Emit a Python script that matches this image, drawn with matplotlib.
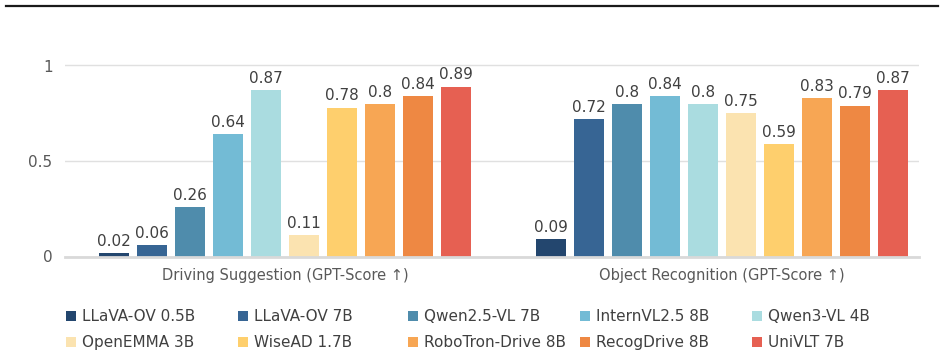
import matplotlib
matplotlib.use("Agg")
import matplotlib.pyplot as plt
from matplotlib.lines import Line2D
from matplotlib.patches import Patch
import numpy as np

categories = ["Driving Suggestion (GPT-Score \u2191)", "Object Recognition (GPT-Score \u2191)"]
models = ["LLaVA-OV 0.5B", "LLaVA-OV 7B", "Qwen2.5-VL 7B", "InternVL2.5 8B", "Qwen3-VL 4B",
          "OpenEMMA 3B", "WiseAD 1.7B", "RoboTron-Drive 8B", "RecogDrive 8B", "UniVLT 7B"]
driving = [0.02, 0.06, 0.26, 0.64, 0.87, 0.11, 0.78, 0.8, 0.84, 0.89]
objrec = [0.09, 0.72, 0.8, 0.84, 0.8, 0.75, 0.59, 0.83, 0.79, 0.87]
colors = ["#23466E", "#376594", "#4F8CAC", "#73BBD5", "#AADCE0",
          "#FBE3B0", "#FECF6D", "#F7A654", "#EE8843", "#E66052"]
yticks = [0, 0.5, 1]
ytick_labels = ["0", "0.5", "1"]

plt.rcParams['font.family'] = ['DejaVu Sans']

fig = plt.figure(figsize=(9.48, 3.61), dpi=100)
ax = fig.add_axes([65/948, 1-256.5/361, (919-65)/948, 1.1*191/361])

x = np.arange(len(categories))
pitch = 38/437
width = 30/437
n = len(models)
for i, m in enumerate(models):
    vals = [driving[i], objrec[i]]
    pos = x + (i - (n-1)/2) * pitch
    bars = ax.bar(pos, vals, width, color=colors[i], label=m, zorder=3)
    for b, v in zip(bars, vals):
        ax.annotate(f"{v:g}", (b.get_x()+b.get_width()/2, v), xytext=(0, 3),
                    textcoords="offset points", ha="center", va="bottom",
                    fontsize=11, color="#404040", zorder=4)

ax.set_xlim(-220/437, 1+197/437)
ax.set_ylim(0, 1.1)
ax.set_yticks(yticks)
ax.set_yticklabels(ytick_labels)
ax.set_xticks(x)
ax.set_xticklabels(categories)
ax.tick_params(axis='both', length=0, colors="#595959", labelsize=11)
ax.tick_params(axis='x', pad=8, labelsize=10.5)
ax.tick_params(axis='y', pad=9)
ax.yaxis.grid(True, color="#E0E0E0", linewidth=1, zorder=0)
for s in ["top", "right", "left"]:
    ax.spines[s].set_visible(False)
ax.spines["bottom"].set_color("#D9D9D9")
ax.spines["bottom"].set_linewidth(2)
ax.spines["bottom"].set_zorder(5)

handles = [Patch(facecolor=c, label=m) for c, m in zip(colors, models)]
col_x = [66, 238, 408, 580, 752]
for c in range(5):
    idx = [c, c + 5]
    fig.legend([handles[k] for k in idx], [models[k] for k in idx], ncol=1,
               loc="upper left", bbox_to_anchor=(col_x[c]/948, 1-309/361), frameon=False,
               fontsize=11, handlelength=0.65, handleheight=0.65, handletextpad=0.4,
               labelspacing=0.72, labelcolor="#404040", borderpad=0, borderaxespad=0)

fig.add_artist(Line2D([6/948, 938/948], [1-6/361, 1-6/361], transform=fig.transFigure,
                      color="#1A1A1A", linewidth=1.6))

fig.savefig("out.png", dpi=100)
